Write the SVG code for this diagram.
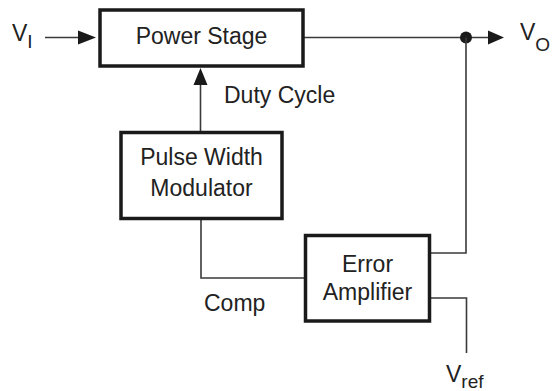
<svg xmlns="http://www.w3.org/2000/svg" width="554" height="391" viewBox="0 0 554 391">
<style>
.box{fill:#fff;stroke:#1a1a1a;stroke-width:3.5}
.wire{fill:none;stroke:#3a3a3a;stroke-width:1.6}
.lbl{font-family:"Liberation Sans",Arial,sans-serif;font-size:23px;fill:#222}
.ctr{text-anchor:middle}
.sub{font-size:19px}
.ah{fill:#1a1a1a}
</style>
<rect width="554" height="391" fill="#fff"/>
<g id="connectors">
<path class="wire" d="M45 37.5H80"/>
<polygon class="ah" points="96,37.5 78,30.5 78,44.5"/>
<path class="wire" d="M200.5 131V83"/>
<polygon class="ah" points="200.5,68 193.5,85 207.5,85"/>
<path class="wire" d="M303 37.5H490"/>
<polygon class="ah" points="504,37.5 488,30.5 488,44.5"/>
<circle class="ah" cx="466" cy="37.5" r="6"/>
<path class="wire" d="M466 37.5V253H430"/>
<path class="wire" d="M430 298H466.5V353"/>
<path class="wire" d="M201 219V278H305"/>
</g>
<g id="power-stage">
<rect class="box" x="100" y="10" width="203" height="56"/>
<text class="lbl ctr" x="201.5" y="44">Power Stage</text>
</g>
<g id="pwm">
<rect class="box" x="121" y="132.5" width="161" height="86"/>
<text class="lbl ctr" x="201.5" y="165">Pulse Width</text>
<text class="lbl ctr" x="201.5" y="196">Modulator</text>
</g>
<g id="error-amplifier">
<rect class="box" x="305.5" y="235.5" width="124" height="85.5"/>
<text class="lbl ctr" x="367.5" y="272">Error</text>
<text class="lbl ctr" x="367.5" y="300">Amplifier</text>
</g>
<g id="labels">
<text class="lbl" x="12" y="41">V<tspan class="sub" dy="7">I</tspan></text>
<text class="lbl" x="520" y="40">V<tspan class="sub" dy="11">O</tspan></text>
<text class="lbl" x="224" y="103">Duty Cycle</text>
<text class="lbl" x="204" y="311">Comp</text>
<text class="lbl" x="446" y="382">V<tspan class="sub" dy="6">ref</tspan></text>
</g>
</svg>
